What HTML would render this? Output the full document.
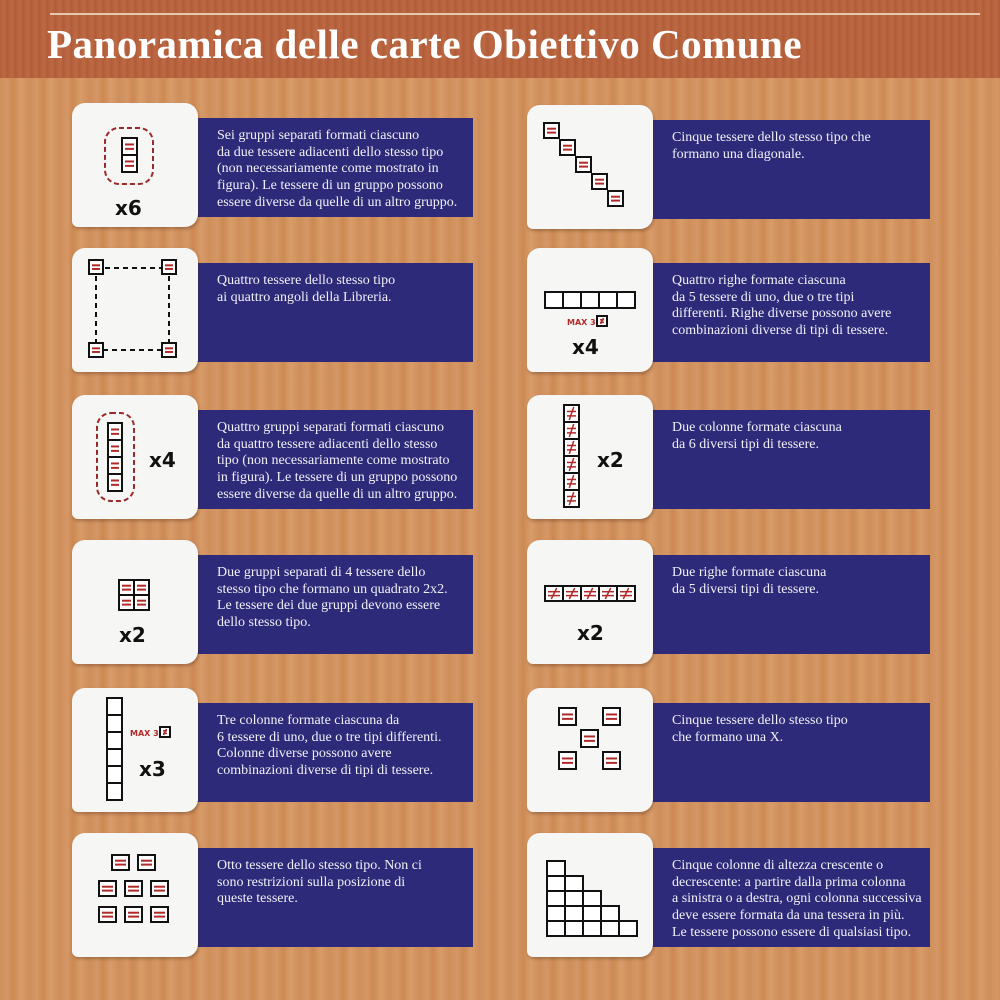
<!DOCTYPE html>
<html><head><meta charset="utf-8">
<style>
html,body{margin:0;padding:0}
body{width:1000px;height:1000px;position:relative;overflow:hidden;
background:repeating-linear-gradient(90deg,#d08f5b 0px,#d59767 7px,#cc8953 13px,#d89c6a 21px,#ce8d59 30px);font-family:"Liberation Serif",serif}
#band{position:absolute;left:0;top:0;width:1000px;height:78px;background:repeating-linear-gradient(90deg,#b35f3c 0,#bd6a44 4px,#b05b39 8px)}
#rule{position:absolute;left:50px;top:13px;width:930px;height:2px;background:#e8c9b0}
#title{position:absolute;left:47px;top:20px;font-size:41px;font-weight:bold;color:#fff;font-family:"Liberation Serif",serif;letter-spacing:0.5px;white-space:nowrap}
.card{position:absolute;width:126px;height:124px;background:#f6f6f4;border-radius:13px 13px 13px 6px;box-shadow:1px 2px 3px rgba(80,40,20,.35)}
.card svg{position:absolute;left:0;top:0}
.ban{position:absolute;height:99px;background:#2d2b79;color:#f1f0f6;font-size:14px;line-height:16.7px;box-sizing:border-box;padding:10px 6px 0 20px;white-space:nowrap}
</style></head><body>
<div id="band"></div>
<div id="rule"></div>
<div id="title">Panoramica delle carte Obiettivo Comune</div>
<script>
const NS='http://www.w3.org/2000/svg';
const rows=[103,248,395,540,688,833];
const texts=[
["Sei gruppi separati formati ciascuno","da due tessere adiacenti dello stesso tipo","(non necessariamente come mostrato in","figura). Le tessere di un gruppo possono","essere diverse da quelle di un altro gruppo."],
["Cinque tessere dello stesso tipo che","formano una diagonale."],
["Quattro tessere dello stesso tipo","ai quattro angoli della Libreria."],
["Quattro righe formate ciascuna","da 5 tessere di uno, due o tre tipi","differenti. Righe diverse possono avere","combinazioni diverse di tipi di tessere."],
["Quattro gruppi separati formati ciascuno","da quattro tessere adiacenti dello stesso","tipo (non necessariamente come mostrato","in figura). Le tessere di un gruppo possono","essere diverse da quelle di un altro gruppo."],
["Due colonne formate ciascuna","da 6 diversi tipi di tessere."],
["Due gruppi separati di 4 tessere dello","stesso tipo che formano un quadrato 2x2.","Le tessere dei due gruppi devono essere","dello stesso tipo."],
["Due righe formate ciascuna","da 5 diversi tipi di tessere."],
["Tre colonne formate ciascuna da","6 tessere di uno, due o tre tipi differenti.","Colonne diverse possono avere","combinazioni diverse di tipi di tessere."],
["Cinque tessere dello stesso tipo","che formano una X."],
["Otto tessere dello stesso tipo. Non ci","sono restrizioni sulla posizione di","queste tessere."],
["Cinque colonne di altezza crescente o","decrescente: a partire dalla prima colonna","a sinistra o a destra, ogni colonna successiva","deve essere formata da una tessera in più.","Le tessere possono essere di qualsiasi tipo."]
];
function el(t,a,p){const e=document.createElementNS(NS,t);for(const k in a)e.setAttribute(k,a[k]);p.appendChild(e);return e;}
function tile(s,x,y,w,h,kind){
 el('rect',{x:x,y:y,width:w,height:h,fill:'#fff',stroke:'#111','stroke-width':2},s);
 if(kind==='eq'){el('line',{x1:x+3,y1:y+h*0.38,x2:x+w-3,y2:y+h*0.38,stroke:'#b02a2a','stroke-width':2},s);
  el('line',{x1:x+3,y1:y+h*0.64,x2:x+w-3,y2:y+h*0.64,stroke:'#b02a2a','stroke-width':2},s);}
 if(kind==='ne'){el('line',{x1:x+3,y1:y+h*0.38,x2:x+w-3,y2:y+h*0.38,stroke:'#b02a2a','stroke-width':1.5},s);
  el('line',{x1:x+3,y1:y+h*0.64,x2:x+w-3,y2:y+h*0.64,stroke:'#b02a2a','stroke-width':1.5},s);
  el('line',{x1:x+w*0.65,y1:y+2,x2:x+w*0.35,y2:y+h-2,stroke:'#b02a2a','stroke-width':1.5},s);}
}
function txt(s,x,y,t,sz,col){const e=el('text',{x:x,y:y,'font-size':sz,'font-family':'DejaVu Sans, sans-serif',fill:col||'#111','font-weight':'bold'},s);e.textContent=t;return e;}
function maxl(s,x,y){txt(s,x,y,'MAX 3',8,'#b02a2a');tile(s,x+30,y-9,10,10,'ne');}
const icons=[
 s=>{el('rect',{x:33,y:25,width:48,height:56,rx:14,fill:'none',stroke:'#9a2a2a','stroke-width':2,'stroke-dasharray':'5 3'},s);tile(s,50,35,15,17,'eq');tile(s,50,52,15,17,'eq');txt(s,43,112,'x6',20);},
 s=>{for(let i=0;i<5;i++)tile(s,17+i*16,18+i*17,15,15,'eq');},
 s=>{el('rect',{x:24,y:20,width:73,height:82,fill:'none',stroke:'#111','stroke-width':2,'stroke-dasharray':'5 4'},s);[[17,12],[90,12],[17,95],[90,95]].forEach(p=>tile(s,p[0],p[1],14,14,'eq'));},
 s=>{for(let i=0;i<5;i++)tile(s,18+i*18,44,18,16,'');maxl(s,40,77);txt(s,45,106,'x4',20);},
 s=>{el('rect',{x:25,y:18,width:37,height:88,rx:14,fill:'none',stroke:'#9a2a2a','stroke-width':2,'stroke-dasharray':'5 3'},s);for(let i=0;i<4;i++)tile(s,36,28+i*17,14,17,'eq');txt(s,77,72,'x4',20);},
 s=>{for(let i=0;i<6;i++)tile(s,37,10+i*17,15,17,'ne');txt(s,70,72,'x2',20);},
 s=>{tile(s,47,40,15,15,'eq');tile(s,62,40,15,15,'eq');tile(s,47,55,15,15,'eq');tile(s,62,55,15,15,'eq');txt(s,47,102,'x2',20);},
 s=>{for(let i=0;i<5;i++)tile(s,18+i*18,46,18,15,'ne');txt(s,50,100,'x2',20);},
 s=>{for(let i=0;i<6;i++)tile(s,35,10+i*17,15,17,'');maxl(s,58,48);txt(s,67,88,'x3',20);},
 s=>{[[0,0],[2,0],[1,1],[0,2],[2,2]].forEach(p=>tile(s,32+p[0]*22,20+p[1]*22,17,17,'eq'));},
 s=>{[[40,22],[66,22],[27,48],[53,48],[79,48],[27,74],[53,74],[79,74]].forEach(p=>tile(s,p[0],p[1],17,15,'eq'));},
 s=>{for(let c=0;c<5;c++)for(let r=0;r<5-c;r++)tile(s,20+c*18,88-r*15,18,15,'');}
];
texts.forEach((t,i)=>{
 const col=i%2, r=Math.floor(i/2);
 const cx=col?527:72, top=rows[r]+(col&&r===0?2:0);
 const card=document.createElement('div');
 card.className='card';card.style.left=cx+'px';card.style.top=top+'px';
 
 
 const s=document.createElementNS(NS,'svg');s.setAttribute('width',126);s.setAttribute('height',124);
 icons[i](s);card.appendChild(s);
 const b=document.createElement('div');b.className='ban';
 b.style.left=(cx+125)+'px';b.style.top=(top+15)+'px';b.style.width=(col?278:276)+'px';
 
 
 b.innerHTML=t.join('<br>');
 document.body.appendChild(b);document.body.appendChild(card);
});
</script>
</body></html>
